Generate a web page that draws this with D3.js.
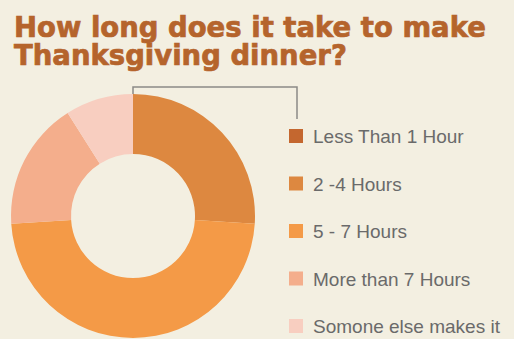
<!DOCTYPE html>
<html>
<head>
<meta charset="utf-8">
<script src="https://cdn.jsdelivr.net/npm/d3@7"></script>
<style>
  html, body { margin: 0; padding: 0; background: #f3efe1; }
  svg { display: block; }
</style>
</head>
<body>
<svg id="chart" width="514" height="339"></svg>
<script>
// Survey answers: time spent making Thanksgiving dinner (percent of respondents)
const categories = ["Less Than 1 Hour", "2 -4 Hours", "5 - 7 Hours", "More than 7 Hours", "Somone else makes it"];
const shares = [0, 26, 48, 17, 9];
const colors = ["#c4672f", "#dd8840", "#f49a47", "#f4ae8c", "#f8cec0"];
const titleLines = ["How long does it take to make", "Thanksgiving dinner?"];

const svg = d3.select("#chart");
const W = 514, H = 339;

svg.append("rect").attr("width", W).attr("height", H).attr("fill", "#f3efe1");

// Title: one text block, two heavy lines
svg.append("text")
  .attr("font-family", "DejaVu Sans, sans-serif")
  .attr("font-weight", "bold")
  .attr("font-size", 27.5)
  .attr("fill", "#b5642c")
  .attr("stroke", "#b5642c")
  .attr("stroke-width", 0.7)
  .selectAll("tspan")
  .data(titleLines)
  .join("tspan")
  .attr("x", 14)
  .attr("y", (d, i) => 37 + i * 28)
  .text(d => d);

// Donut
const cx = 133, cy = 216, rOuter = 122, rInner = 62;
const data = categories.map((c, i) => ({ name: c, value: shares[i], color: colors[i] }));
const pie = d3.pie().value(d => d.value).sort(null);
const arcs = pie(data);
const arc = d3.arc().innerRadius(rInner).outerRadius(rOuter);

const g = svg.append("g").attr("transform", `translate(${cx},${cy})`);
g.selectAll("path")
  .data(arcs)
  .join("path")
  .attr("d", arc)
  .attr("fill", d => d.data.color);

// Legend
const legendX = 289, legendY0 = 136, legendStep = 47.5, sq = 14;
const legend = svg.append("g");
const rows = legend.selectAll("g")
  .data(data)
  .join("g")
  .attr("transform", (d, i) => `translate(${legendX},${legendY0 + i * legendStep})`);
rows.append("rect")
  .attr("x", 0).attr("y", -sq / 2)
  .attr("width", sq).attr("height", sq)
  .attr("fill", d => d.color);
rows.append("text")
  .attr("x", 24).attr("y", 7)
  .attr("font-family", "Liberation Sans, Arial, sans-serif")
  .attr("font-size", 19)
  .attr("fill", "#6a6a6a")
  .text(d => d.name);

// Leader line from the first slice up and over to its legend entry
const first = arcs[0];
const ang = (first.startAngle + first.endAngle) / 2;
const sx = cx + rOuter * Math.sin(ang), sy = cy - rOuter * Math.cos(ang);
const topY = 87;
const lineX = legendX + sq / 2 + 1;
svg.append("path")
  .attr("d", d3.line()([[sx, sy], [sx, topY], [lineX, topY], [lineX, legendY0 - 17]]))
  .attr("fill", "none")
  .attr("stroke", "#8c8a86")
  .attr("stroke-width", 1.5);
</script>
</body>
</html>
